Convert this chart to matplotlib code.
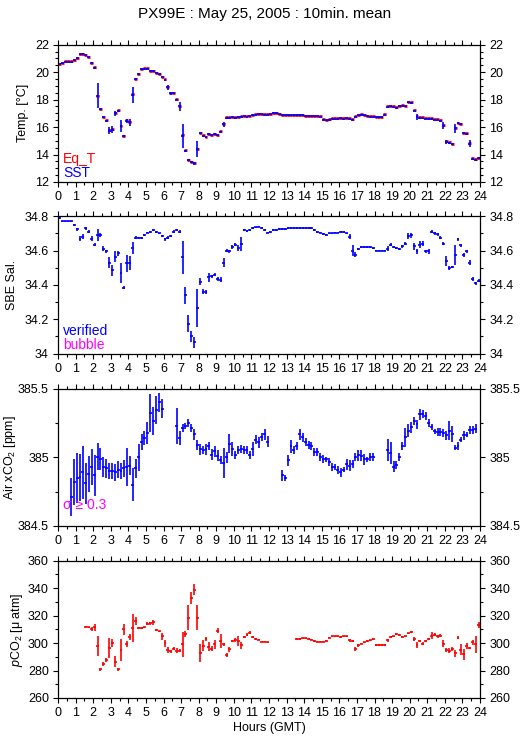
import numpy as np
import matplotlib
matplotlib.use("Agg")
import matplotlib.pyplot as plt
from matplotlib.ticker import MultipleLocator, FuncFormatter

plt.rcParams['font.family'] = ['Liberation Sans', 'DejaVu Sans']
plt.rcParams['mathtext.fontset'] = 'custom'
plt.rcParams['mathtext.rm'] = 'Liberation Sans'
plt.rcParams['mathtext.it'] = 'Liberation Sans:italic'

N = None
# ---------------- data (10-minute means, 144 per day) ----------------
sst = [
    20.60, 20.65, 20.75, 20.75, 20.75, 20.85, 21.00, 21.30, 21.35, 21.25, 21.10, 20.70,
    20.30, 18.30, 17.30, 16.70, 16.45, 15.75, 15.80, 17.00, 17.20, 16.10, 15.35, 16.45,
    16.35, 18.35, 19.50, 19.85, 20.20, 20.25, 20.25, 20.10, 20.05, 19.95, 19.85, 19.65,
    19.45, 18.90, 18.45, 18.45, 18.00, 17.50, 15.35, 14.25, 13.60, 13.45, 13.35, 14.40,
    15.55, 15.35, 15.25, 15.50, 15.40, 15.50, 15.40, 15.65, 16.20, 16.65, 16.65, 16.70,
    16.65, 16.70, 16.75, 16.80, 16.75, 16.80, 16.85, 16.90, 16.95, 16.95, 16.90, 16.90,
    16.95, 17.00, 17.00, 16.95, 16.85, 16.85, 16.85, 16.85, 16.85, 16.85, 16.85, 16.85,
    16.80, 16.80, 16.80, 16.80, 16.80, 16.75, 16.55, 16.50, 16.55, 16.60, 16.60, 16.60,
    16.65, 16.60, 16.65, 16.60, 16.55, 16.75, 16.85, 16.90, 16.85, 16.80, 16.75, 16.75,
    16.70, 16.70, 16.70, 16.90, 17.45, 17.50, 17.45, 17.40, 17.50, 17.55, 17.50, 17.80,
    17.75, 17.20, 16.75, 16.65, 16.65, 16.60, 16.60, 16.60, 16.55, 16.55, 16.45, 16.10,
    14.90, 14.85, 14.75, 15.90, 16.30, 16.20, 15.55, 15.50, 14.80, 13.70, 13.60, 13.75,
]
sst_err = [
    0.02, 0.02, 0.02, 0.02, 0.02, 0.02, 0.03, 0.03, 0.02, 0.02, 0.03, 0.05,
    0.10, 0.90, 0.03, 0.03, 0.03, 0.25, 0.25, 0.20, 0.05, 0.45, 0.05, 0.15,
    0.25, 0.60, 0.08, 0.05, 0.03, 0.02, 0.02, 0.02, 0.02, 0.03, 0.03, 0.03,
    0.03, 0.20, 0.10, 0.05, 0.05, 0.30, 0.90, 0.10, 0.05, 0.08, 0.08, 0.60,
    0.05, 0.05, 0.05, 0.05, 0.05, 0.05, 0.05, 0.05, 0.20, 0.05, 0.05, 0.03,
    0.03, 0.03, 0.03, 0.03, 0.03, 0.03, 0.03, 0.03, 0.03, 0.03, 0.03, 0.03,
    0.03, 0.03, 0.03, 0.03, 0.02, 0.02, 0.02, 0.02, 0.02, 0.02, 0.02, 0.02,
    0.02, 0.02, 0.02, 0.02, 0.02, 0.02, 0.03, 0.03, 0.02, 0.02, 0.02, 0.02,
    0.02, 0.02, 0.02, 0.03, 0.03, 0.03, 0.02, 0.02, 0.02, 0.02, 0.02, 0.02,
    0.02, 0.02, 0.02, 0.05, 0.03, 0.03, 0.03, 0.03, 0.03, 0.03, 0.03, 0.05,
    0.05, 0.05, 0.20, 0.03, 0.03, 0.03, 0.03, 0.03, 0.03, 0.03, 0.05, 0.25,
    0.15, 0.05, 0.05, 0.35, 0.05, 0.08, 0.05, 0.05, 0.25, 0.08, 0.08, 0.05,
]
eqt = [
    20.62, 20.68, 20.78, 20.78, 20.78, 20.85, 21.00, 21.30, 21.35, 21.25, 21.10, 20.70,
    20.35, 18.30, 17.35, 16.72, 16.50, 15.78, 15.85, 17.05, 17.22, 16.10, 15.38, 16.48,
    16.40, 18.38, 19.52, 19.88, 20.22, 20.28, 20.28, 20.12, 20.08, 19.97, 19.87, 19.67,
    19.47, 18.95, 18.50, 18.50, 18.02, 17.50, 15.45, 14.32, 13.63, 13.48, 13.40, 14.42,
    15.60, 15.40, 15.30, 15.52, 15.45, 15.52, 15.42, 15.70, 16.25, 16.70, 16.70, 16.75,
    16.70, 16.72, 16.78, 16.82, 16.80, 16.82, 16.88, 16.95, 16.98, 16.98, 16.93, 16.93,
    16.98, 17.05, 17.05, 16.98, 16.90, 16.88, 16.88, 16.88, 16.88, 16.88, 16.88, 16.88,
    16.83, 16.83, 16.83, 16.83, 16.83, 16.80, 16.58, 16.53, 16.58, 16.63, 16.63, 16.63,
    16.68, 16.63, 16.68, 16.63, 16.60, 16.78, 16.90, 16.93, 16.88, 16.83, 16.80, 16.80,
    16.73, 16.73, 16.73, 16.93, 17.50, 17.53, 17.50, 17.43, 17.53, 17.60, 17.55, 17.83,
    17.80, 17.23, 16.80, 16.70, 16.70, 16.65, 16.65, 16.63, 16.60, 16.60, 16.50, 16.15,
    15.00, 14.90, 14.80, 15.92, 16.33, 16.25, 15.60, 15.55, 14.85, 13.75, 13.65, 13.78,
]
eqt_err = [0.02] * 144
sal = [
    34.79, 34.77, 34.77, 34.77, 34.77, 34.75, 34.725, 34.67, 34.68, 34.73, 34.71, 34.67,
    34.635, 34.69, 34.69, 34.61, 34.595, 34.53, 34.485, 34.565, 34.585, 34.47, 34.385, 34.525,
    34.53, 34.615, 34.675, 34.675, 34.675, 34.69, 34.705, 34.71, 34.72, 34.71, 34.70, 34.685,
    34.665, 34.675, 34.685, 34.71, 34.72, 34.71, 34.56, 34.34, 34.175, 34.10, 34.065, 34.265,
    34.42, 34.36, 34.36, 34.445, 34.45, 34.46, 34.435, 34.43, 34.53, 34.60, 34.595, 34.62,
    34.635, 34.615, 34.64, 34.72, 34.715, 34.72, 34.73, 34.735, 34.74, 34.73, 34.72, 34.705,
    34.71, 34.72, 34.72, 34.725, 34.725, 34.725, 34.73, 34.73, 34.73, 34.73, 34.73, 34.73,
    34.73, 34.73, 34.73, 34.72, 34.71, 34.705, 34.695, 34.69, 34.70, 34.70, 34.705, 34.705,
    34.71, 34.71, 34.70, 34.68, 34.60, 34.575, 34.61, 34.62, 34.62, 34.62, 34.62, 34.615,
    34.60, 34.60, 34.60, 34.60, 34.61, 34.635, 34.62, 34.615, 34.61, 34.625, 34.64, 34.685,
    34.69, 34.625, 34.595, 34.635, 34.64, 34.595, 34.595, 34.71, 34.70, 34.695, 34.675, 34.64,
    34.54, 34.50, 34.505, 34.575, 34.665, 34.63, 34.575, 34.595, 34.53, 34.435, 34.41, 34.425,
]
sal_err = [
    0.005, 0.005, 0.005, 0.005, 0.005, 0.005, 0.008, 0.015, 0.015, 0.008, 0.008, 0.015,
    0.010, 0.035, 0.010, 0.015, 0.010, 0.030, 0.030, 0.030, 0.015, 0.060, 0.010, 0.050,
    0.040, 0.035, 0.008, 0.005, 0.005, 0.005, 0.005, 0.005, 0.005, 0.005, 0.005, 0.005,
    0.010, 0.010, 0.008, 0.010, 0.008, 0.008, 0.095, 0.050, 0.050, 0.030, 0.030, 0.110,
    0.020, 0.015, 0.010, 0.025, 0.010, 0.010, 0.010, 0.015, 0.025, 0.010, 0.008, 0.010,
    0.010, 0.015, 0.040, 0.008, 0.005, 0.005, 0.005, 0.005, 0.005, 0.005, 0.005, 0.005,
    0.005, 0.005, 0.005, 0.005, 0.005, 0.005, 0.005, 0.005, 0.005, 0.005, 0.005, 0.005,
    0.005, 0.005, 0.005, 0.005, 0.005, 0.005, 0.005, 0.005, 0.005, 0.005, 0.005, 0.005,
    0.005, 0.005, 0.005, 0.015, 0.030, 0.015, 0.008, 0.005, 0.005, 0.005, 0.005, 0.005,
    0.005, 0.005, 0.005, 0.005, 0.015, 0.008, 0.005, 0.005, 0.005, 0.008, 0.010, 0.015,
    0.015, 0.020, 0.015, 0.020, 0.015, 0.010, 0.015, 0.008, 0.008, 0.008, 0.010, 0.010,
    0.030, 0.010, 0.008, 0.060, 0.008, 0.010, 0.010, 0.008, 0.015, 0.010, 0.010, 0.008,
]
air = [
    N, N, N, N, 384.71, 384.82, 384.85, 384.855, 384.89, 384.81, 384.88, 384.93,
    384.87, 385.005, 384.985, 384.93, 384.92, 384.90, 384.90, 384.89, 384.91, 384.90, 384.92, 384.93,
    384.94, 384.80, 384.92, 385.00, 385.11, 385.14, 385.18, 385.325, 385.265, 385.345, 385.40, 385.355,
    N, N, N, N, 385.23, 385.14, 385.215, 385.23, 385.25, 385.215, 385.17, 385.09,
    385.06, 385.055, 385.06, 385.08, 385.02, 385.045, 385.01, 384.98, 384.96, 385.00, 385.10, 385.06,
    385.015, 385.055, 385.06, 385.055, 385.055, 385.015, 385.06, 385.13, 385.11, 385.15, 385.17, 385.115,
    N, N, N, N, 384.87, 384.85, 384.98, 385.08, 385.055, 385.08, 385.17, 385.145,
    385.11, 385.09, 385.08, 385.04, 385.04, 385.00, 384.99, 384.985, 384.965, 384.93, 384.93, 384.91,
    384.89, 384.91, 384.95, 384.94, 384.95, 385.00, 385.015, 385.01, 384.985, 384.985, 385.00, 385.00,
    N, N, N, N, 385.055, 385.03, 384.93, 384.945, 385.00, 385.08, 385.145, 385.195,
    385.22, 385.265, 385.24, 385.315, 385.315, 385.30, 385.25, 385.22, 385.19, 385.185, 385.185, 385.18,
    385.16, 385.195, 385.17, 385.07, 385.08, 385.13, 385.16, 385.165, 385.20, 385.20, 385.21, N,
]
air_err = [
    0, 0, 0, 0, 0.14, 0.17, 0.18, 0.17, 0.19, 0.15, 0.13, 0.13,
    0.15, 0.10, 0.08, 0.07, 0.07, 0.06, 0.06, 0.06, 0.06, 0.06, 0.06, 0.14,
    0.07, 0.12, 0.07, 0.10, 0.06, 0.05, 0.08, 0.14, 0.10, 0.10, 0.07, 0.07,
    0, 0, 0, 0, 0.13, 0.05, 0.03, 0.02, 0.03, 0.03, 0.04, 0.04,
    0.04, 0.03, 0.04, 0.03, 0.04, 0.04, 0.04, 0.03, 0.11, 0.04, 0.07, 0.05,
    0.03, 0.03, 0.03, 0.03, 0.03, 0.03, 0.05, 0.03, 0.04, 0.03, 0.04, 0.04,
    0, 0, 0, 0, 0.04, 0.02, 0.04, 0.05, 0.03, 0.03, 0.04, 0.03,
    0.03, 0.03, 0.03, 0.03, 0.03, 0.03, 0.03, 0.02, 0.03, 0.03, 0.02, 0.03,
    0.03, 0.02, 0.04, 0.04, 0.03, 0.03, 0.04, 0.04, 0.04, 0.02, 0.03, 0.03,
    0, 0, 0, 0, 0.08, 0.08, 0.04, 0.03, 0.03, 0.03, 0.07, 0.05,
    0.04, 0.03, 0.03, 0.04, 0.03, 0.03, 0.03, 0.02, 0.02, 0.03, 0.03, 0.03,
    0.03, 0.07, 0.06, 0.02, 0.03, 0.02, 0.03, 0.02, 0.03, 0.03, 0.03, 0,
]
pco2 = [
    N, N, N, N, N, N, N, N, N, 312.0, 311.5, 310.5,
    311.5, 298.0, 281.0, 284.5, 287.5, 296.5, 300.0, 286.5, 281.0, 295.0, 310.0, 299.5,
    304.5, 311.0, 316.0, 311.0, 311.0, 311.5, 314.0, 314.5, 315.0, 309.5, 308.5, 305.0,
    300.0, 295.0, 294.0, 296.0, 294.5, 294.5, 299.0, 306.5, 318.5, 333.0, 339.0, 318.5,
    293.0, 298.0, 303.0, 297.5, 296.0, 299.0, 309.0, 301.5, 299.0, 291.0, 295.5, 301.5,
    302.5, 301.5, 298.5, 304.5, 306.0, 307.5, 304.5, 303.0, 302.5, 301.0, 301.0, 300.5,
    N, N, N, N, N, N, N, N, N, 303.0, 303.0, 303.5,
    303.5, 303.0, 302.5, 301.5, 301.0, 301.0, 301.0, 301.5, 304.0, 305.0, 305.0, 305.0,
    304.5, 305.0, 305.0, 302.0, 301.5, 296.0, 298.5, 299.5, 300.5, 301.5, 302.0, 303.0,
    298.5, 298.5, 298.5, 298.5, 302.0, 304.5, 305.0, 306.5, 306.0, 304.5, 305.0, 307.0,
    308.0, 303.0, 298.5, 301.5, 299.5, 301.5, 303.0, 305.5, 306.0, 305.0, 305.5, 299.5,
    295.0, 294.5, 296.0, 292.5, 304.0, 295.0, 292.0, 298.0, 296.5, 300.5, 299.0, 313.0,
]
pco2_err = [
    0, 0, 0, 0, 0, 0, 0, 0, 0, 0.5, 0.5, 1.5,
    2.5, 7.5, 1.0, 1.5, 1.5, 7.5, 3.0, 4.0, 1.0, 8.0, 4.0, 2.0,
    2.0, 10.0, 3.0, 1.0, 0.5, 0.5, 1.0, 1.0, 2.0, 1.0, 0.5, 2.5,
    2.5, 2.0, 1.0, 1.0, 2.0, 1.0, 9.0, 2.0, 9.0, 4.5, 4.0, 9.0,
    6.5, 4.0, 1.5, 3.0, 2.0, 3.0, 2.0, 5.0, 1.0, 1.5, 2.0, 1.0,
    1.5, 3.5, 2.5, 1.0, 1.0, 1.0, 1.0, 0.5, 0.5, 0.5, 0.5, 0.5,
    0, 0, 0, 0, 0, 0, 0, 0, 0, 0.5, 0.5, 0.5,
    0.5, 0.5, 0.5, 0.5, 0.5, 0.5, 0.5, 0.5, 0.5, 0.5, 0.5, 0.5,
    0.5, 0.5, 0.5, 1.0, 1.0, 1.5, 1.0, 0.5, 0.5, 0.5, 0.5, 0.5,
    0.5, 0.5, 0.5, 0.5, 1.0, 0.5, 0.5, 0.5, 0.5, 0.5, 0.5, 0.5,
    1.0, 1.5, 2.0, 1.0, 1.0, 1.0, 1.0, 2.5, 1.0, 1.0, 1.0, 2.5,
    1.5, 2.0, 1.5, 2.5, 1.0, 4.0, 4.0, 2.0, 1.0, 2.0, 6.0, 2.0,
]
hour_ticks = list(range(0, 25))
title = "PX99E : May 25, 2005 : 10min. mean"

# ---------------- plotting ----------------
hours = (np.arange(144) + 0.5) / 6.0
half = 1.0 / 12.0


def arr(v):
    return np.array([np.nan if x is None else x for x in v], dtype=float)


BLUE = '#0000ff'
RED = '#ff0000'
MAG = '#ff00ff'

fig = plt.figure(figsize=(5.29, 7.39), dpi=100)
W = 529.0
H = 739.0
left = 58 / W
width = 422 / W
tops = [44.7, 216.3, 388.7, 560.7]
ph = 137.3
axes = []
for t in tops:
    axes.append(fig.add_axes([left, 1 - (t + ph) / H, width, ph / H]))

fig.text(0.5, 1 - 14 / H, title, ha='center', va='center', fontsize=11)


def style(ax, ylim, major, minor, ylabel, label_x):
    ax.set_xlim(0, 24)
    ax.set_ylim(*ylim)
    ax.xaxis.set_minor_locator(MultipleLocator(0.5))
    ax.yaxis.set_major_locator(MultipleLocator(major))
    ax.yaxis.set_minor_locator(MultipleLocator(minor))
    ax.yaxis.set_major_formatter(FuncFormatter(lambda v, p: '%g' % round(v, 4)))
    ax.set_xticks(hour_ticks)
    ax.set_xticklabels([str(h) for h in hour_ticks])
    ax.tick_params(axis='both', which='both', direction='out', top=True, right=True,
                   labelright=True, labeltop=False, labelsize=9, width=0.8, pad=3)
    ax.tick_params(which='major', length=3.6)
    ax.tick_params(which='minor', length=2.2)
    for s in ax.spines.values():
        s.set_linewidth(0.9)
    ax.set_ylabel(ylabel, fontsize=9)
    ax.yaxis.set_label_coords(label_x, 0.5)


def draw(ax, y, e, color, lw):
    y = arr(y)
    e = arr(e)
    ok = ~np.isnan(y)
    ax.errorbar(hours[ok], y[ok], xerr=half, yerr=e[ok], fmt='none', ecolor=color,
                elinewidth=lw, capsize=0)


ax1, ax2, ax3, ax4 = axes
draw(ax1, eqt, eqt_err, RED, 2.0)
draw(ax1, sst, sst_err, BLUE, 1.2)
style(ax1, (12, 22), 2, 0.5, 'Temp. [°C]', -0.068)
ax1.text(0.012, 0.168, 'Eq_T', color=RED, transform=ax1.transAxes, fontsize=10, va='center')
ax1.text(0.012, 0.066, 'SST', color=BLUE, transform=ax1.transAxes, fontsize=10, va='center')

draw(ax2, sal, sal_err, BLUE, 1.2)
style(ax2, (34.0, 34.8), 0.2, 0.1, 'SBE Sal.', -0.095)
ax2.text(0.012, 0.162, 'verified', color=BLUE, transform=ax2.transAxes, fontsize=10, va='center')
ax2.text(0.012, 0.065, 'bubble', color=MAG, transform=ax2.transAxes, fontsize=10, va='center')

draw(ax3, air, air_err, BLUE, 1.2)
style(ax3, (384.5, 385.5), 0.5, 0.25, 'Air xCO$_2$ [ppm]', -0.094)
ax3.text(0.012, 0.153, 'σ ≥ 0.3', color=MAG, transform=ax3.transAxes, fontsize=10, va='center')

draw(ax4, pco2, pco2_err, RED, 1.2)
style(ax4, (260, 360), 20, 10, '$\\it{p}$CO$_2$ [μ atm]', -0.078)
ax4.set_xlabel('Hours (GMT)', fontsize=9, labelpad=2)

fig.savefig('out.png', dpi=100)
